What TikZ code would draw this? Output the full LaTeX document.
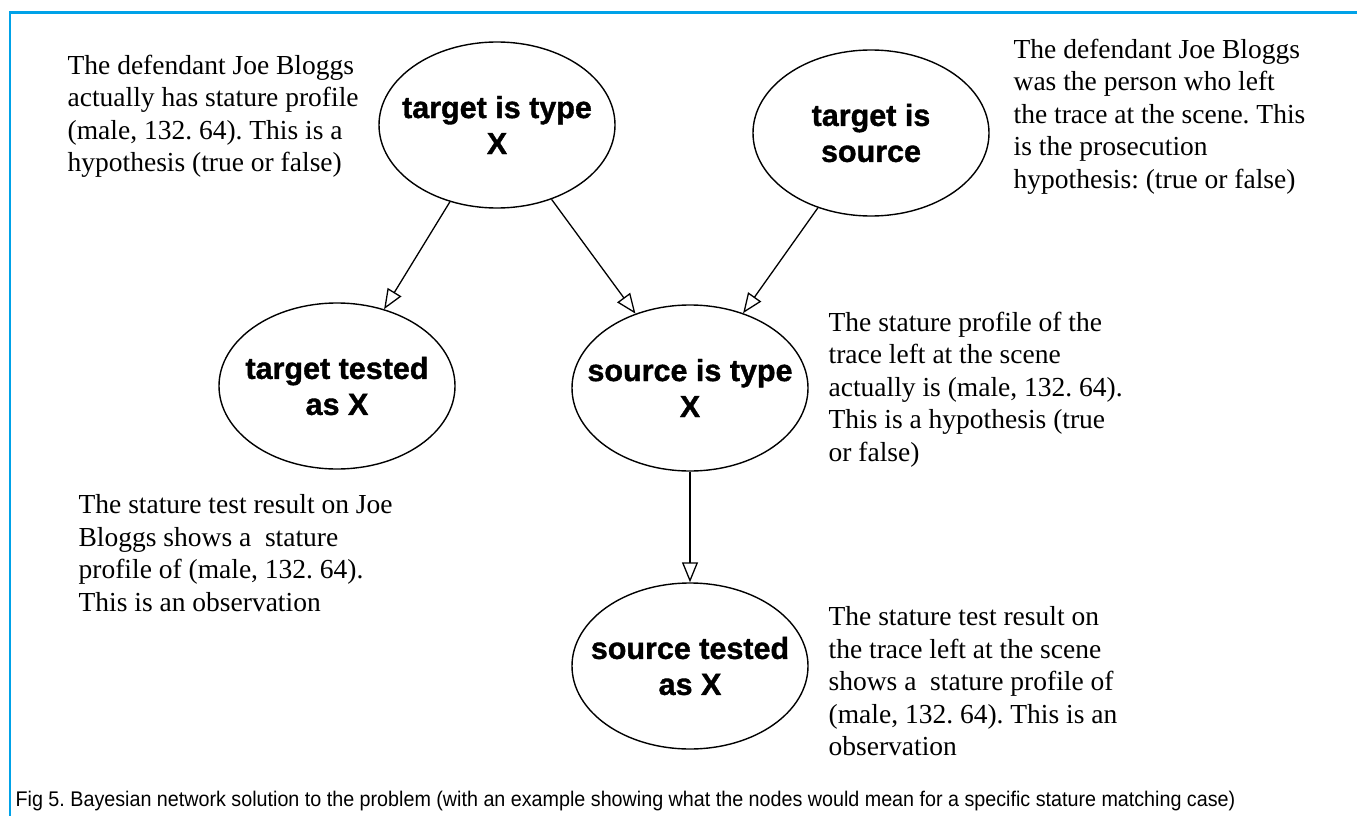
\documentclass[tikz,border=0pt]{standalone}
\usepackage{fontspec}
\setmainfont{Liberation Serif}
\newfontfamily\sansfam{Liberation Sans}[BoldFeatures={FakeBold=1.2}]
\newfontfamily\capfam{Liberation Sans}[FakeStretch=0.93]
\frenchspacing
\usetikzlibrary{shapes.geometric,arrows.meta}
\definecolor{framecol}{RGB}{0,162,232}
\tikzset{
  bn/.style={ellipse,draw,line width=1.4pt,minimum width=236pt,minimum height=166pt,inner sep=0pt},
  bname/.style={align=center,font=\sansfam\bfseries\fontsize{30.5}{36}\selectfont},
  note/.style={align=left,anchor=north west,inner sep=0pt,font=\fontsize{27.5}{32.5}\selectfont},
}
\begin{document}
\begin{tikzpicture}[x=1pt,y=-1pt,>={Triangle[open,length=20pt,width=16pt]},line width=1.3pt]
\useasboundingbox (0,0) rectangle (1357,816);
\draw[framecol,line width=2.2pt](1357,12.5)--(10,12.5)--(10,816);
% network nodes
\node[bn,label={[bname]center:target is type\\X}] (tit) at (497,125) {};
\node[bn,label={[bname]center:target is\\source}] (tis) at (871,133) {};
\node[bn,label={[bname]center:target tested\\as X}] (ttx) at (337,386) {};
\node[bn,label={[bname]center:source is type\\X}] (sit) at (690,388) {};
\node[bn,label={[bname]center:source tested\\as X}] (stx) at (690,666) {};
\draw[->](tit)--(ttx);
\draw[->](tit)--(sit);
\draw[->](tis)--(sit);
\draw[->](sit)--(stx);
% what each node means
\node[note] (ntit) at (67,54) {The defendant Joe Bloggs\\actually has stature profile\\(male, 132. 64). This is a\\hypothesis (true or false)};
\node[note] (ntis) at (1013,38) {The defendant Joe Bloggs\\was the person who left\\the trace at the scene. This\\is the prosecution\\hypothesis: (true or false)};
\node[note] (nsit) at (828,311) {The stature profile of the\\trace left at the scene\\actually is (male, 132. 64).\\This is a hypothesis (true\\or false)};
\node[note] (nttx) at (78,494) {The stature test result on Joe\\Bloggs shows a\ \ stature\\profile of (male, 132. 64).\\This is an observation};
\node[note] (nstx) at (828,606) {The stature test result on\\the trace left at the scene\\shows a\ \ stature profile of\\(male, 132. 64). This is an\\observation};
\node[anchor=base west,inner sep=0pt,font=\capfam\fontsize{21.2}{24}\selectfont] (cap) at (15,806) {Fig 5. Bayesian network solution to the problem (with an example showing what the nodes would mean for a specific stature matching case)};
\end{tikzpicture}
\end{document}
